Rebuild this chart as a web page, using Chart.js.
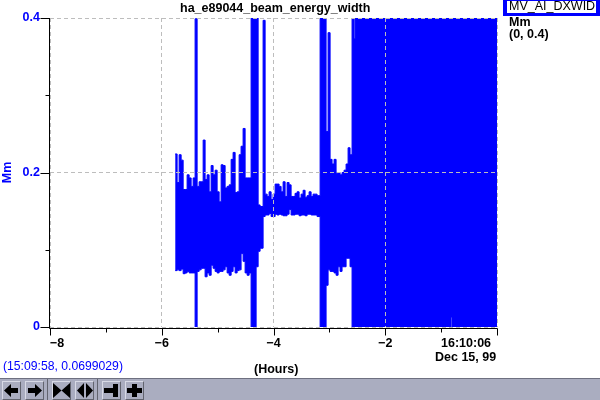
<!DOCTYPE html>
<html>
<head>
<meta charset="utf-8">
<script src="https://cdn.jsdelivr.net/npm/chart.js@4"></script>
<style>
  body { margin: 0; background: #fff; font-family: "Liberation Sans", sans-serif; }
  #wrap { position: relative; width: 600px; height: 400px; overflow: hidden; }
  canvas { position: absolute; left: 0; top: 0; }
  .t { position: absolute; font-size: 12.5px; font-weight: bold; color: #000; white-space: nowrap; line-height: 14px; }
  #sigbox { position: absolute; left: 503px; top: 0; width: 87px; height: 12px; border: 4px solid #0000ff; border-top-width: 1px; border-bottom-width: 3px; background: #fff; font-size: 12.5px; line-height: 11px; padding-left: 2px; white-space: nowrap; }
  #status { position: absolute; left: 3px; top: 359px; font-size: 12.2px; line-height: 14px; color: #0000ff; }
  #bar { position: absolute; left: 0; top: 378px; width: 600px; height: 22px; background: #aaadc0; border-top: 1px solid #6e7080; box-sizing: border-box; }
  .btn { position: absolute; top: 2px; width: 17px; height: 17px; border: 1px solid; border-color: #d8dae6 #62646f #62646f #d8dae6; }
  .btn svg { display: block; width: 17px; height: 17px; }
  .sep { position: absolute; top: 0; width: 1px; height: 22px; background: #62646f; }
</style>
</head>
<body>
<div id="wrap">
  <canvas id="chart" width="600" height="400"></canvas>
  <div class="t" style="left:180px;top:1px">ha_e89044_beam_energy_width</div>
  <div class="t" style="left:254px;top:362px">(Hours)</div>
  <div id="sigbox">MV_AI_DXWID</div>
  <div class="t" style="left:509px;top:15px">Mm</div>
  <div class="t" style="left:509px;top:27px">(0, 0.4)</div>
  <div class="t" style="left:441px;top:336px">16:10:06</div>
  <div class="t" style="left:435px;top:350px">Dec 15, 99</div>
  <div id="status">(15:09:58, 0.0699029)</div>
  <div id="bar">
    <div class="btn" style="left:2px"><svg viewBox="0 0 17 17"><path d="M1 8.500 8 2v4h7v5H8v4z"/></svg></div>
    <div class="btn" style="left:25px"><svg viewBox="0 0 17 17"><path d="M16 8.500 9 2v4H2v5h7v4z"/></svg></div>
    <div class="sep" style="left:47px"></div>
    <div class="btn" style="left:52px"><svg viewBox="0 0 17 17"><path d="M0 1 8.500 8.500 0 16zM17 1 8.500 8.500 17 16z"/></svg></div>
    <div class="btn" style="left:75px"><svg viewBox="0 0 17 17"><path d="M8 1 1 8.500 8 16zM10 1l7 7.500L10 16z"/></svg></div>
    <div class="sep" style="left:97px"></div>
    <div class="btn" style="left:102px"><svg viewBox="0 0 17 17"><path d="M1 6h9V2h5v13h-5v-4H1z"/></svg></div>
    <div class="btn" style="left:125px"><svg viewBox="0 0 17 17"><path d="M6 2h5v4h5v5h-5v4H6v-4H1V6h5z"/></svg></div>
  </div>
</div>
<script>
const hours = [
  -5.760, -5.725, -5.689, -5.653, -5.617, -5.581, -5.546, -5.510, -5.474, -5.438,
  -5.403, -5.367, -5.331, -5.295, -5.259, -5.224, -5.188, -5.152, -5.116, -5.081,
  -5.045, -5.009, -4.973, -4.937, -4.902, -4.866, -4.830, -4.794, -4.758, -4.723,
  -4.687, -4.651, -4.615, -4.580, -4.544, -4.508, -4.472, -4.436, -4.401, -4.311,
  -4.275, -4.240, -4.186, -4.150, -4.114, -4.079, -4.043, -4.007, -3.971, -3.936,
  -3.900, -3.864, -3.828, -3.792, -3.757, -3.721, -3.685, -3.649, -3.614, -3.578,
  -3.542, -3.506, -3.470, -3.435, -3.399, -3.363, -3.327, -3.292, -3.256, -3.220,
  -3.166, -3.059, -3.023, -2.987, -2.952, -2.916, -2.880, -2.844, -2.809, -2.773,
  -2.737, -2.701, -2.665, -2.630, -2.594, -2.558, -2.540, -0.823, -0.805, 0
];
const highs = [
  .224, .187, .223, .216, .178, .178, .197, .193, .182, .193,
  .399, .182, .188, .188, .242, .191, .197, .175, .209, .197,
  .203, .175, .162, .210, .209, .180, .182, .184, .217, .226,
  .174, .175, .223, .234, .257, .193, .193, .193, .400, .400,
  .158, .156, .397, .172, .169, .175, .165, .172, .185, .185,
  .182, .175, .188, .169, .187, .184, .169, .169, .173, .175,
  .167, .172, .177, .168, .170, .175, .169, .172, .172, .170,
  .400, .253, .381, .217, .211, .217, .199, .200, .197, .200,
  .203, .211, .232, .223, .400, .373, .400, .400, .400, .400
];
const lows = [
  .073, .074, .073, .075, .069, .070, .072, .070, .070, .070,
  0, .072, .074, .076, .076, .065, .070, .067, .080, .076,
  .072, .070, .072, .072, .074, .078, .070, .067, .072, .078,
  .070, .073, .074, .095, .085, .070, .067, .070, 0, .078,
  .098, .102, .143, .145, .145, .147, .143, .143, .146, .145,
  .146, .145, .144, .144, .146, .152, .145, .145, .146, .146,
  .144, .145, .145, .144, .146, .146, .145, .145, .145, .143,
  0, .054, .074, .072, .072, .070, .067, .078, .072, .078,
  .078, .089, .089, .078, 0, 0, 0, .013, 0, 0
];
const xTickLabels = ['\u2007\u2007\u22128', '', '\u22126', '', '\u22124', '', '\u22122', '', ''];
const yTickLabels = ['0', '', '0.2', '', '0.4'];
const xGridHours = [-8, -6, -4, -2, 0];
const yGridValues = [0, 0.2, 0.4];
const xMinorHours = [-7, -5, -3, -1];
const yMinorValues = [0.1, 0.3];
const traceBlue = '#0000ff';

// axis lines and the long/short tick marks sit 1px outside the dashed box
const axisMarks = {
  id: 'axisMarks',
  afterDraw(chart) {
    const { ctx, chartArea: a, scales: { x, y } } = chart;
    const ax = Math.round(a.left) - 0.5, ay = Math.round(a.bottom) + 1.5;
    ctx.save();
    ctx.strokeStyle = '#000';
    ctx.lineWidth = 1;
    ctx.beginPath();
    ctx.moveTo(ax, Math.round(a.top)); ctx.lineTo(ax, ay);
    ctx.moveTo(ax, ay); ctx.lineTo(Math.round(a.right) + 0.5, ay);
    xGridHours.forEach(h => { const p = Math.round(x.getPixelForValue(h)) + 0.5; ctx.moveTo(p, ay); ctx.lineTo(p, ay + 7); });
    xMinorHours.forEach(h => { const p = Math.round(x.getPixelForValue(h)) + 0.5; ctx.moveTo(p, ay); ctx.lineTo(p, ay + 4); });
    yGridValues.forEach(v => { const p = Math.round(y.getPixelForValue(v)) + 0.5; ctx.moveTo(ax, p); ctx.lineTo(ax - 9, p); });
    yMinorValues.forEach(v => { const p = Math.round(y.getPixelForValue(v)) + 0.5; ctx.moveTo(ax, p); ctx.lineTo(ax - 4, p); });
    ctx.stroke();
    ctx.restore();
  }
};

const boldFont = { family: '"Liberation Sans", sans-serif', size: 12.5, weight: 'bold' };
const gridOpts = { z: 1, drawTicks: false };
const borderOpts = { display: false, dash: [4, 3] };

new Chart(document.getElementById('chart'), {
  type: 'line',
  data: {
    datasets: [
      { data: hours.map((h, i) => ({ x: h, y: highs[i] })), borderColor: traceBlue, backgroundColor: traceBlue, borderWidth: 1, pointRadius: 0, stepped: true, fill: '+1' },
      { data: hours.map((h, i) => ({ x: h, y: lows[i] })), borderColor: traceBlue, borderWidth: 1, pointRadius: 0, stepped: true, fill: false }
    ]
  },
  options: {
    responsive: false,
    animation: false,
    layout: { padding: { top: 18, right: 103, bottom: 22 } },
    plugins: {
      legend: { display: false },
      tooltip: { enabled: false }
    },
    scales: {
      x: {
        type: 'linear',
        min: -8,
        max: 0,
        afterFit(s) { s.height = 51; },
        border: borderOpts,
        grid: { ...gridOpts, color: c => (c.tick && xGridHours.includes(c.tick.value) ? '#bdbdbd' : 'transparent') },
        ticks: { stepSize: 1, autoSkip: false, maxRotation: 0, color: '#000', font: boldFont, padding: 9, callback: (v, i) => xTickLabels[i] }
      },
      y: {
        min: 0,
        max: 0.4,
        afterFit(s) { s.width = 50; },
        border: borderOpts,
        grid: { ...gridOpts, color: c => (c.tick && Math.round(c.tick.value * 10) % 2 === 0 ? '#bdbdbd' : 'transparent') },
        ticks: { stepSize: 0.1, autoSkip: false, color: traceBlue, font: boldFont, padding: 10, callback: (v, i) => yTickLabels[i] },
        title: { display: true, text: 'Mm', color: traceBlue, font: boldFont, padding: { top: 0, bottom: 0 } }
      }
    }
  },
  plugins: [axisMarks]
});
</script>
</body>
</html>
